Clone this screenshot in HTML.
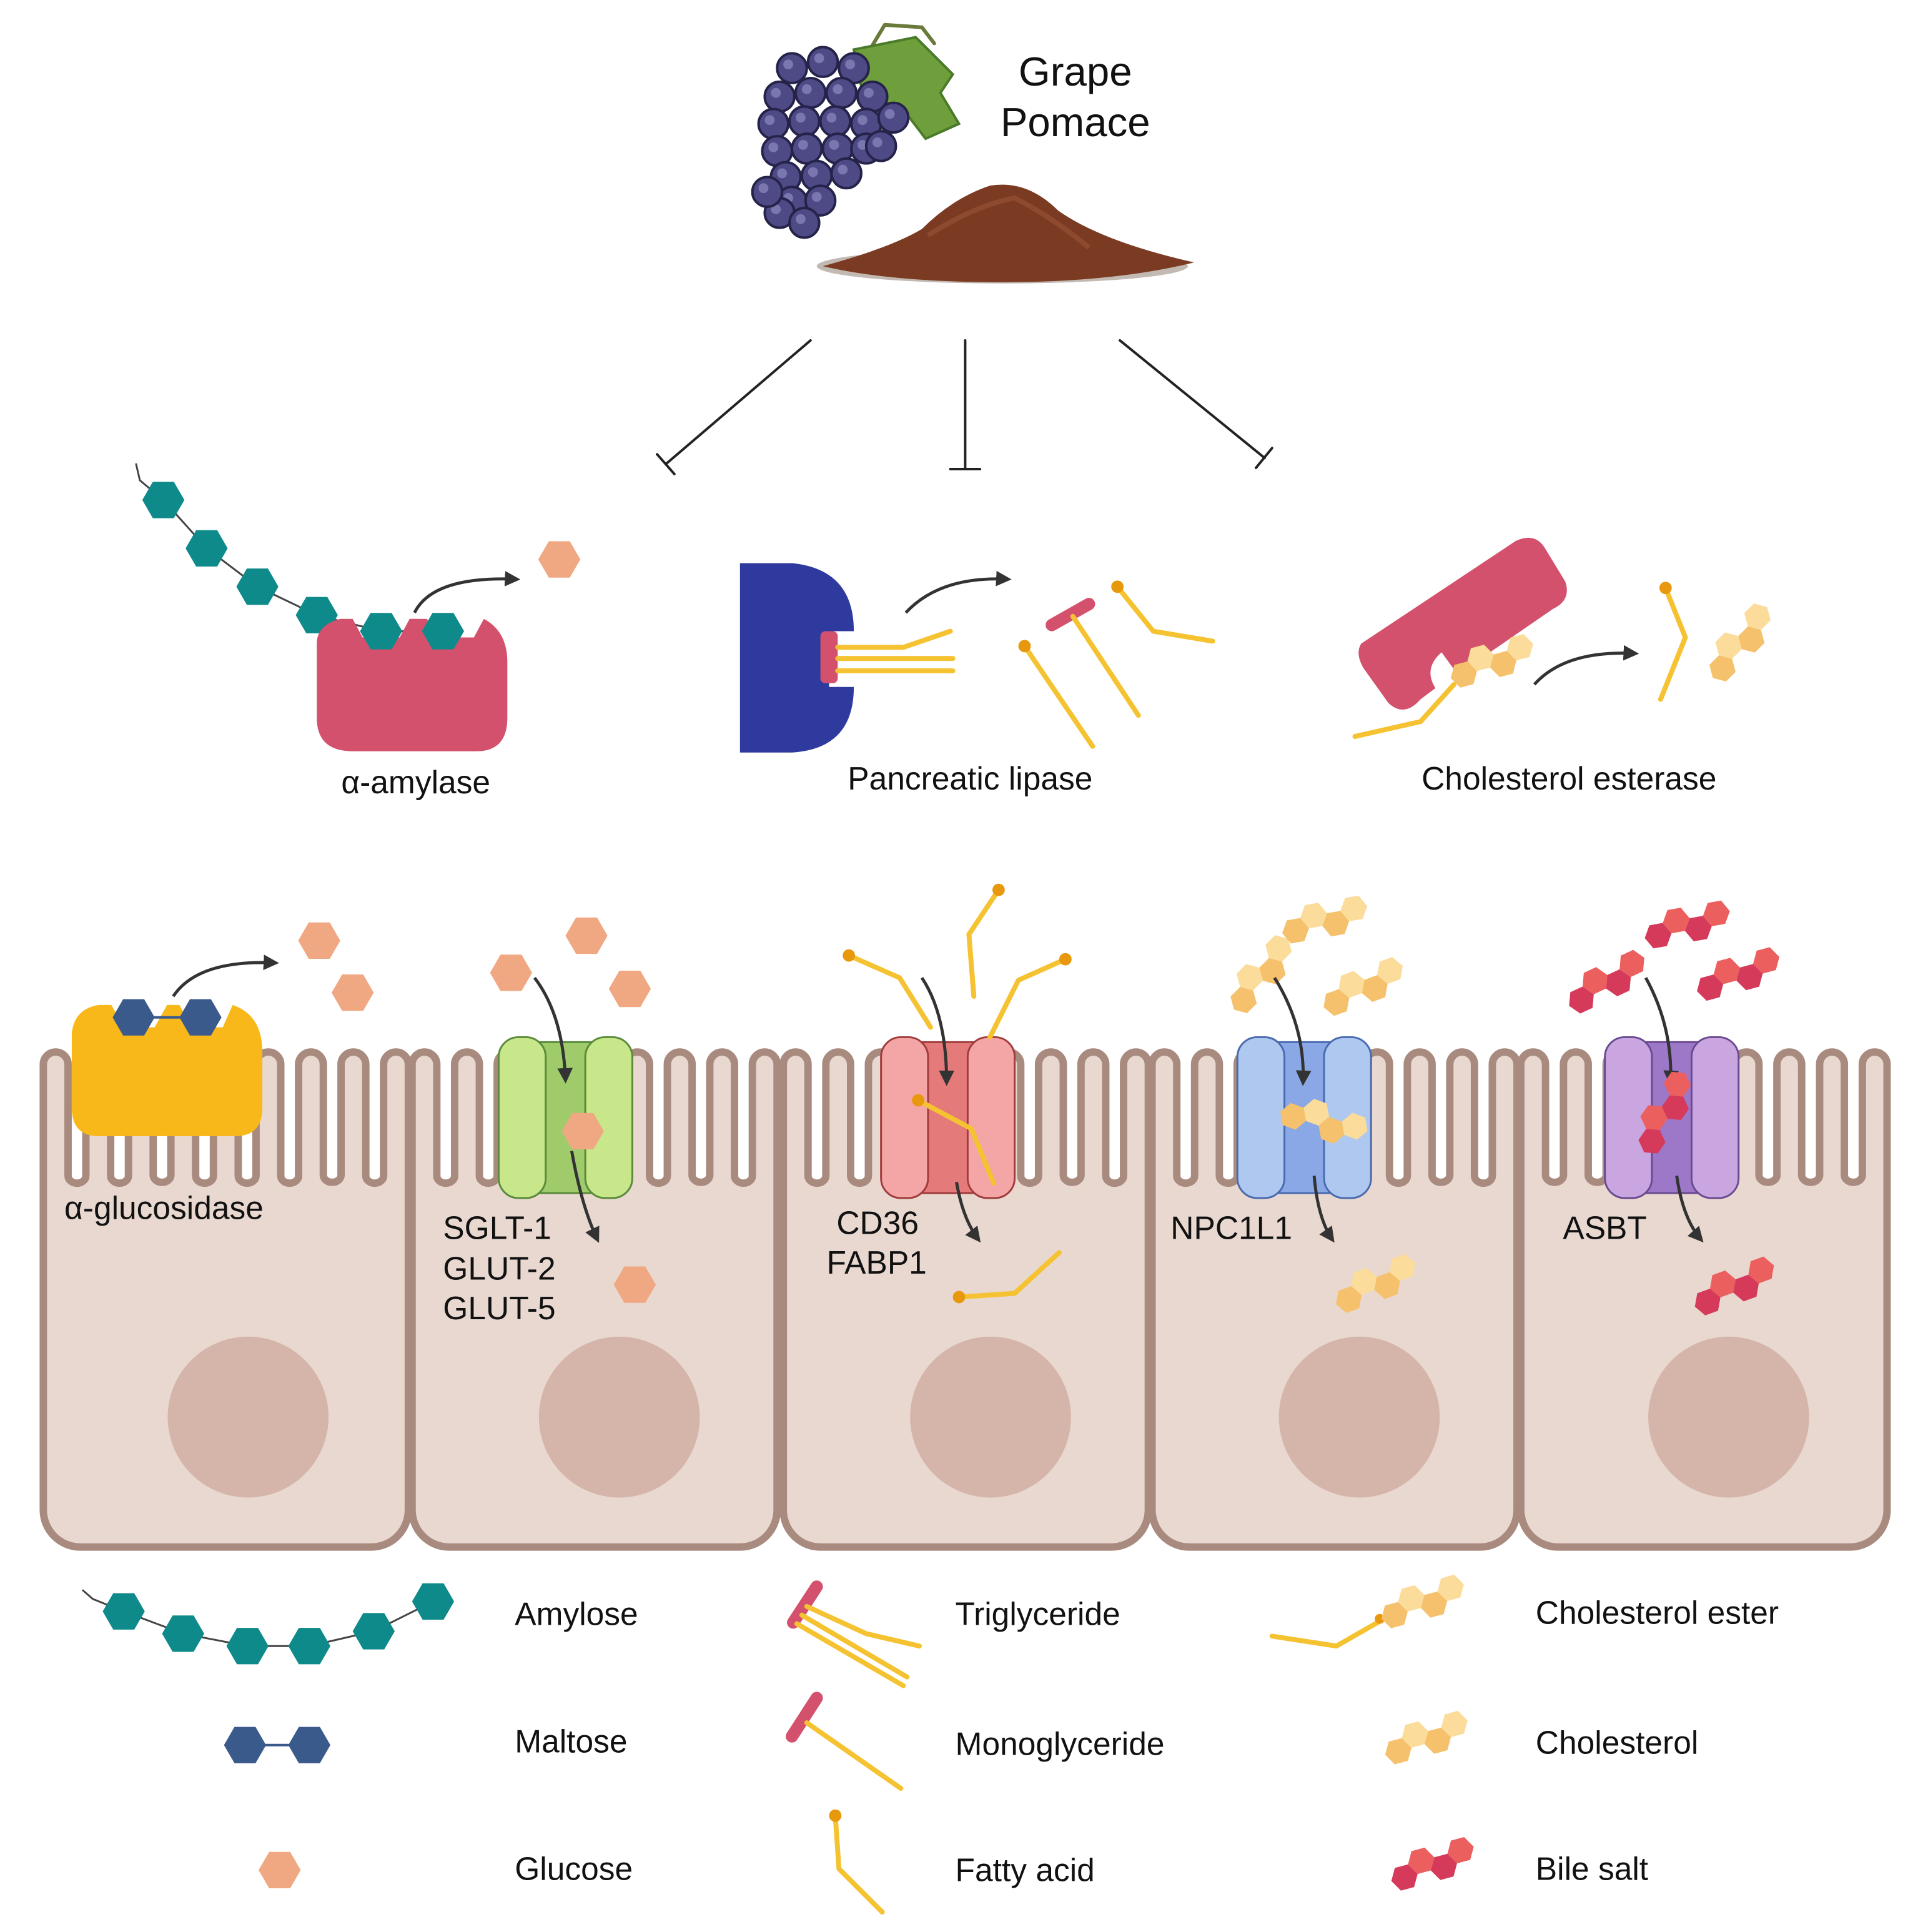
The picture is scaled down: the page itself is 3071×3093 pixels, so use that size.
<!DOCTYPE html>
<html><head><meta charset="utf-8">
<style>
html,body{margin:0;padding:0;background:#fff;}
svg{display:block;}
text{font-family:"Liberation Sans",sans-serif;fill:#111;}
</style></head>
<body>
<svg id="s" width="3071" height="3093" viewBox="0 0 1550 1561" xmlns="http://www.w3.org/2000/svg">
<defs>
<marker id="ah" viewBox="0 0 10 10" refX="8" refY="5" markerWidth="5" markerHeight="5" orient="auto"><path d="M0,0 L10,5 L0,10 z" fill="#333"/></marker>
</defs>
<rect width="1550" height="1561" fill="#fff"/>
<g id="back"></g>
<g id="cells"></g>
<g id="fore"></g>
<g font-size="33">
<text x="869" y="69" text-anchor="middle">Grape</text>
<text x="869" y="110" text-anchor="middle">Pomace</text>
</g>
<g font-size="26">
<text x="336" y="641" text-anchor="middle">α-amylase</text>
<text x="784" y="638" text-anchor="middle">Pancreatic lipase</text>
<text x="1268" y="638" text-anchor="middle">Cholesterol esterase</text>
<text x="52" y="985">α-glucosidase</text>
<text x="358" y="1001">SGLT-1</text>
<text x="358" y="1034">GLUT-2</text>
<text x="358" y="1066">GLUT-5</text>
<text x="676" y="997">CD36</text>
<text x="668" y="1029">FABP1</text>
<text x="946" y="1001">NPC1L1</text>
<text x="1263" y="1001">ASBT</text>
<text x="416" y="1313">Amylose</text>
<text x="416" y="1416">Maltose</text>
<text x="416" y="1519">Glucose</text>
<text x="772" y="1313">Triglyceride</text>
<text x="772" y="1418">Monoglyceride</text>
<text x="772" y="1520">Fatty acid</text>
<text x="1241" y="1312">Cholesterol ester</text>
<text x="1241" y="1417">Cholesterol</text>
<text x="1241" y="1519">Bile salt</text>
</g>
</svg>
<script>
const NS="http://www.w3.org/2000/svg";
function el(p,tag,a){const e=document.createElementNS(NS,tag);for(const k in a)e.setAttribute(k,a[k]);document.getElementById(p).appendChild(e);return e;}
function hex(p,cx,cy,r,fill,rot){let pts=[];for(let i=0;i<6;i++){const a=(i*60+(rot||0))*Math.PI/180;pts.push((cx+r*Math.cos(a)).toFixed(1)+","+(cy+r*Math.sin(a)).toFixed(1));}
 return el(p,"polygon",{points:pts.join(" "),fill:fill});}
function line(p,pts,col,w){return el(p,"polyline",{points:pts.map(q=>q.join(",")).join(" "),fill:"none",stroke:col,"stroke-width":w||4,"stroke-linecap":"round","stroke-linejoin":"round"});}
function dot(p,x,y,r,c){return el(p,"circle",{cx:x,cy:y,r:r,fill:c});}
function arrow(p,d){return el(p,"path",{d:d,fill:"none",stroke:"#333","stroke-width":2.5,"marker-end":"url(#ah)"});}
const TEAL="#0e8a8a",GLU="#f0a882",NAVY="#3b5a8c",YL="#f5c232",OR="#e8980c",PINK="#d4516e";
function chain(p,pts,r,skip){for(let i=0;i<pts.length-1;i++)line(p,[pts[i],pts[i+1]],"#444",1.5);pts.forEach((q,i)=>{if(i>=skip)hex(p,q[0],q[1],r,TEAL);});}
function chol(p,x,y,r,rot,c1,c2){const g=el(p,"g",{transform:`translate(${x},${y}) rotate(${rot||0})`});
 const offs=[[0,0],[1.5,-0.866],[3,0],[4.5,-0.866]];offs.forEach((o,i)=>{let pts=[];for(let k=0;k<6;k++){const a=k*60*Math.PI/180;pts.push((o[0]*r+r*Math.cos(a)).toFixed(1)+","+(o[1]*r+r*Math.sin(a)).toFixed(1));}
 const e=document.createElementNS(NS,"polygon");e.setAttribute("points",pts.join(" "));e.setAttribute("fill",i%2?c2:c1);g.appendChild(e);});}
const CH1="#f5c16c",CH2="#fbdc9a",BS1="#d63a5a",BS2="#ec5f5f";
// ===== grapes =====
line("back",[[700,45],[715,20],[745,22],[755,35]],"#6a7a3a",3);
el("back","path",{d:"M690,40 L740,30 L770,60 L760,75 L775,100 L748,112 L735,95 L715,112 L700,90 Z",fill:"#6f9e3c",stroke:"#4a7a28","stroke-width":2});
const gp=[[640,55],[665,50],[690,55],[630,78],[655,75],[680,75],[705,78],[625,100],[650,98],[675,98],[700,100],[722,95],[628,122],[652,120],[677,120],[700,120],[635,143],[660,142],[684,140],[640,163],[663,162],[630,172],[650,180],[620,155],[712,118]];
gp.forEach(q=>{el("back","circle",{cx:q[0],cy:q[1],r:12,fill:"#4e4a85",stroke:"#25234a","stroke-width":2});dot("back",q[0]-3,q[1]-3,4,"#7a76b0");});
// powder
el("back","ellipse",{cx:810,cy:215,rx:150,ry:14,fill:"#9a8a80",opacity:0.6});
el("back","path",{d:"M665,215 Q720,200 745,185 Q770,160 800,150 Q830,145 855,170 Q890,195 965,212 Q900,228 810,228 Q720,228 665,215 Z",fill:"#7b3b22"});
el("back","path",{d:"M750,190 Q790,165 820,160 Q850,175 880,200",fill:"none",stroke:"#9a5538","stroke-width":4,opacity:0.6});
// inhibition lines
line("back",[[655,275],[538,375]],"#222",2);line("back",[[531,367],[545,383]],"#222",2);
line("back",[[780,275],[780,378]],"#222",2);line("back",[[768,379],[792,379]],"#222",2);
line("back",[[905,275],[1022,370]],"#222",2);line("back",[[1028,362],[1015,378]],"#222",2);
// ===== amylase =====
chain("back",[[110,375],[113,388],[132,404],[167,443],[208,474],[256,497],[308,510],[358,510]],17,2);
el("back","path",{d:"M256,520 Q256,505 275,500 L285,500 L293,515 L323,515 L331,500 L345,500 L353,515 L383,515 L391,500 Q410,510 410,535 L410,580 Q410,607 385,607 L285,607 Q256,607 256,580 Z",fill:PINK});
hex("back",308,510,17,TEAL);hex("back",358,510,17,TEAL);
arrow("back","M335,495 Q350,465 418,468");
hex("back",452,452,17,GLU);
// ===== lipase =====
el("back","path",{d:"M598,455 L640,455 Q690,460 690,510 L670,510 L670,555 L690,555 Q690,605 640,608 L598,608 Z",fill:"#2f3a9e"});
el("back","rect",{x:663,y:510,width:14,height:42,rx:4,fill:PINK});
line("back",[[677,523],[730,523],[768,510]],YL,4);line("back",[[677,532],[770,532]],YL,4);line("back",[[677,542],[770,542]],YL,4);
arrow("back","M732,495 Q760,465 815,468");
line("back",[[850,505],[880,488]],PINK,10);line("back",[[867,498],[920,578]],YL,4);
line("back",[[828,522],[883,603]],YL,4);dot("back",828,522,5,OR);
line("back",[[903,474],[932,510],[980,518]],YL,4);dot("back",903,474,5,OR);
// ===== cholesterol esterase =====
el("back","path",{d:"M1100,520 L1225,437 Q1240,430 1248,442 L1265,470 Q1270,485 1255,492 L1178,545 L1165,527 Q1150,540 1160,556 L1148,565 Q1135,580 1122,568 L1102,540 Q1095,528 1100,520 Z",fill:PINK});
line("back",[[1095,595],[1148,583],[1175,553]],YL,4);
chol("back",1183,545,11,-15,CH1,CH2);
arrow("back","M1240,553 Q1265,525 1322,528");
line("back",[[1346,475],[1362,515],[1342,565]],YL,4);dot("back",1346,475,5,OR);
chol("back",1392,540,11,-45,CH1,CH2);
// ===== cells =====
const cx=[[35,330],[333,628],[633,928],[931,1226],[1229,1525]];
cx.forEach((c,ci)=>{const x0=c[0],x1=c[1],w=x1-x0;const n=Math.floor((w-20)/32)+1,pt=(w-20)/(n-1);
 let d=`M${x0},1220 L${x0},860`;for(let i=0;i<n;i++){const x=x0+i*pt;d+=` A10,10 0 0 1 ${(x+20).toFixed(1)},860 L${(x+20).toFixed(1)},950`;if(i<n-1){d+=` A${((pt-20)/2).toFixed(1)},6 0 0 0 ${(x+pt).toFixed(1)},950 L${(x+pt).toFixed(1)},860`;}}
 d+=` L${x1},1220 A30,30 0 0 1 ${x1-30},1250 L${x0+30},1250 A30,30 0 0 1 ${x0},1220 Z`;
 el("cells","path",{d:d,fill:"#e8d8d0",stroke:"#a88a7e","stroke-width":6,"stroke-linejoin":"round"});
 dot("cells",(x0+x1)/2+20-(ci==0?2:0),1145,65,"#d5b5aa");});
// glucosidase
el("fore","path",{d:"M58,835 Q60,815 80,812 L90,812 L100,830 L125,830 L135,812 L145,812 L155,830 L180,830 L188,812 Q212,820 212,850 L212,895 Q212,918 190,918 L80,918 Q58,918 58,895 Z",fill:"#f8b81a"});
hex("fore",108,822,17,NAVY);hex("fore",162,822,17,NAVY);line("fore",[[125,822],[145,822]],NAVY,2);
arrow("fore","M140,805 Q160,775 223,778");
hex("fore",258,760,17,GLU);hex("fore",285,802,17,GLU);
// transporters
function tr(x,o,m,s){el("fore","rect",{x:x+30,y:842,width:48,height:122,fill:m,stroke:s,"stroke-width":1.5});
 el("fore","rect",{x:x,y:838,width:38,height:130,rx:16,fill:o,stroke:s,"stroke-width":1.5});
 el("fore","rect",{x:x+70,y:838,width:38,height:130,rx:16,fill:o,stroke:s,"stroke-width":1.5});}
tr(403,"#c8e68a","#9fcb6a","#5a8a3a");tr(712,"#f4a5a5","#e57a7a","#a03c3c");tr(1000,"#aec8f0","#8aa8e6","#4a6ab0");tr(1297,"#c9a6e0","#9e78c8","#6a4a90");
// SGLT
hex("fore",474,756,17,GLU);hex("fore",413,786,17,GLU);hex("fore",509,799,17,GLU);
arrow("fore","M432,790 Q455,820 457,873");hex("fore",471,914,17,GLU);arrow("fore","M462,930 Q470,975 483,1002");
hex("fore",513,1038,17,GLU);
// CD36
line("fore",[[686,772],[727,790],[752,830]],YL,4);dot("fore",686,772,5,OR);
line("fore",[[807,719],[783,755],[787,805]],YL,4);dot("fore",807,719,5,OR);
line("fore",[[861,775],[823,792],[800,838]],YL,4);dot("fore",861,775,5,OR);
arrow("fore","M745,790 Q765,820 765,875");
line("fore",[[742,889],[785,912],[803,956]],YL,4);dot("fore",742,889,5,OR);
arrow("fore","M773,955 Q778,985 791,1002");
line("fore",[[775,1048],[820,1045],[856,1012]],YL,4);dot("fore",775,1048,5,OR);
// NPC1L1
chol("fore",1005,808,11,-45,CH1,CH2);chol("fore",1047,752,11,-10,CH1,CH2);chol("fore",1080,810,11,-20,CH1,CH2);
arrow("fore","M1030,790 Q1055,830 1053,875");
chol("fore",1045,902,11,20,CH1,CH2);
arrow("fore","M1062,950 Q1065,985 1077,1002");
chol("fore",1090,1050,11,-20,CH1,CH2);
// ASBT
chol("fore",1340,756,11,-10,BS1,BS2);chol("fore",1278,808,11,-25,BS1,BS2);chol("fore",1382,798,11,-15,BS1,BS2);
arrow("fore","M1330,790 Q1352,830 1350,875");
chol("fore",1335,922,11,-55,BS1,BS2);
arrow("fore","M1355,950 Q1360,985 1375,1002");
chol("fore",1380,1052,11,-20,BS1,BS2);
// ===== legend =====
chain("fore",[[67,1285],[75,1292],[100,1302],[148,1320],[200,1330],[250,1330],[302,1318],[350,1294]],17,2);
hex("fore",198,1410,17,NAVY);hex("fore",250,1410,17,NAVY);line("fore",[[215,1410],[233,1410]],NAVY,2);
hex("fore",226,1511,17,GLU);
line("fore",[[641,1311],[660,1282]],PINK,10);
line("fore",[[652,1298],[700,1320],[743,1330]],YL,4);line("fore",[[648,1305],[733,1355]],YL,4);line("fore",[[644,1312],[730,1362]],YL,4);
line("fore",[[640,1403],[660,1372]],PINK,10);line("fore",[[652,1392],[728,1445]],YL,4);
line("fore",[[675,1467],[678,1510],[713,1545]],YL,4);dot("fore",675,1467,5,OR);
line("fore",[[1028,1322],[1080,1330],[1115,1310]],YL,4);dot("fore",1115,1308,4,OR);
chol("fore",1127,1305,11,-15,CH1,CH2);
chol("fore",1130,1415,11,-15,CH1,CH2);
chol("fore",1135,1517,11,-15,BS1,BS2);
</script>
</body></html>
